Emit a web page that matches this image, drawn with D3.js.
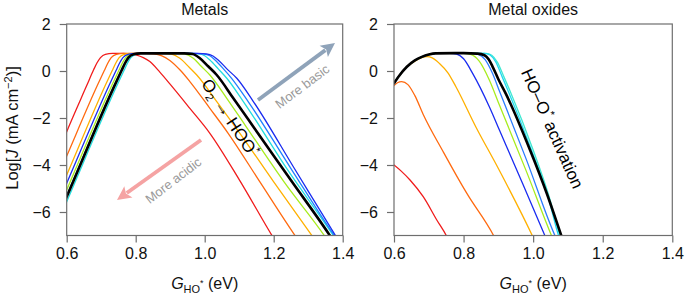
<!DOCTYPE html>
<html>
<head>
<meta charset="utf-8">
<script src="https://cdn.jsdelivr.net/npm/d3@7"></script>
<style>
  html, body { margin: 0; padding: 0; background: #fff; }
  svg { display: block; font-family: "Liberation Sans", Arial, sans-serif; }
</style>
</head>
<body>
<svg id="chart" width="685" height="298"></svg>
<script>
// ---------- data ----------
const xTicks = [0.6, 0.8, 1.0, 1.2, 1.4];
const yTicks = [2, 0, -2, -4, -6];
const panelTitles = ["Metals", "Metal oxides"];

// Metals panel curves: [G_HO*, log J]
const metalsRed = [[0.58,-3.3],[0.6,-2.58],[0.658,-0.62],[0.678,0.05],[0.688,0.35],[0.698,0.57],[0.712,0.71],[0.733,0.75],[0.765,0.75],[0.785,0.73],[0.803,0.68],[0.822,0.57],[0.841,0.40],[0.87,-0.05],[0.899,-0.55],[0.957,-1.59],[1.015,-2.65],[1.10,-4.62],[1.197,-7.05],[1.22,-7.6]];
const metalsOrange = [[0.58,-4.3],[0.6,-3.62],[0.689,-0.61],[0.709,0.02],[0.719,0.33],[0.729,0.57],[0.744,0.71],[0.765,0.75],[0.83,0.75],[0.852,0.73],[0.876,0.64],[0.899,0.45],[0.93,0.02],[0.957,-0.45],[1.015,-1.59],[1.068,-2.65],[1.16,-4.72],[1.264,-7.05],[1.29,-7.6]];
const metalsGold = [[0.58,-5.11],[0.6,-4.43],[0.712,-0.61],[0.732,0.02],[0.742,0.33],[0.752,0.57],[0.767,0.71],[0.787,0.75],[0.875,0.75],[0.903,0.72],[0.928,0.54],[0.955,0.16],[0.977,-0.17],[1.035,-1.30],[1.102,-2.65],[1.20,-4.72],[1.313,-7.05],[1.34,-7.6]];
const metalsYellowGreen = [[0.58,-5.74],[0.6,-5.06],[0.731,-0.61],[0.751,0.02],[0.761,0.33],[0.771,0.57],[0.786,0.71],[0.806,0.75],[0.915,0.75],[0.943,0.72],[0.967,0.54],[0.99,0.2],[1.015,-0.17],[1.064,-1.16],[1.117,-2.30],[1.23,-4.72],[1.349,-7.05],[1.37,-7.5]];
const metalsBlue = [[0.58,-5.46],[0.6,-4.78],[0.723,-0.61],[0.743,0.02],[0.753,0.33],[0.763,0.57],[0.778,0.71],[0.798,0.75],[0.98,0.75],[1.005,0.73],[1.024,0.64],[1.039,0.47],[1.065,0.08],[1.093,-0.31],[1.141,-1.30],[1.26,-4.15],[1.381,-7.05],[1.40,-7.5]];
const metalsDodger = [[0.58,-5.98],[0.6,-5.30],[0.738,-0.61],[0.758,0.02],[0.768,0.33],[0.778,0.57],[0.793,0.71],[0.813,0.75],[0.97,0.75],[0.995,0.73],[1.015,0.65],[1.030,0.47],[1.055,0.08],[1.078,-0.31],[1.126,-1.30],[1.25,-4.15],[1.378,-7.05],[1.40,-7.5]];
const metalsCyan = [[0.58,-6.24],[0.6,-5.56],[0.746,-0.61],[0.766,0.02],[0.776,0.33],[0.786,0.57],[0.801,0.71],[0.821,0.75],[0.958,0.75],[0.983,0.73],[1.0,0.65],[1.015,0.47],[1.04,0.08],[1.064,-0.31],[1.112,-1.30],[1.24,-4.2],[1.375,-7.05],[1.395,-7.5]];
const metalsBlack = [[0.58,-6.03],[0.6,-5.35],[0.739,-0.61],[0.759,0.02],[0.769,0.33],[0.779,0.57],[0.794,0.71],[0.814,0.75],[0.94,0.75],[0.965,0.72],[0.986,0.54],[1.01,0.2],[1.035,-0.17],[1.083,-1.16],[1.141,-2.37],[1.25,-4.65],[1.365,-7.05],[1.385,-7.5]];

// Metal oxides panel curves
const oxRed = [[0.6,-4.0],[0.62,-4.25],[0.646,-4.64],[0.684,-5.35],[0.723,-6.34],[0.752,-7.05],[0.76,-7.3]];
const oxOrange = [[0.6,-0.62],[0.61,-0.5],[0.622,-0.45],[0.64,-0.58],[0.66,-1.05],[0.684,-1.85],[0.742,-3.45],[0.809,-5.2],[0.888,-7.05],[0.9,-7.4]];
const oxGold = [[0.6,-0.52],[0.615,-0.2],[0.637,0.17],[0.66,0.42],[0.68,0.57],[0.695,0.61],[0.71,0.56],[0.73,0.33],[0.755,-0.08],[0.778,-0.67],[0.835,-2.37],[0.900,-4.15],[0.999,-7.05],[1.01,-7.4]];
const oxBlue = [[0.6,-0.52],[0.615,-0.2],[0.637,0.18],[0.66,0.45],[0.68,0.6],[0.70,0.7],[0.72,0.75],[0.76,0.75],[0.78,0.72],[0.80,0.52],[0.826,-0.1],[0.874,-1.52],[0.903,-2.51],[0.97,-4.8],[1.035,-7.05],[1.045,-7.4]];
const oxYellowGreen = [[0.6,-0.52],[0.615,-0.2],[0.637,0.18],[0.66,0.45],[0.68,0.6],[0.70,0.7],[0.72,0.75],[0.80,0.75],[0.82,0.71],[0.845,0.42],[0.874,-0.38],[0.903,-1.45],[0.98,-4.25],[1.054,-7.05],[1.064,-7.4]];
const oxDodger = [[0.6,-0.52],[0.615,-0.2],[0.637,0.18],[0.66,0.45],[0.68,0.6],[0.70,0.7],[0.72,0.75],[0.82,0.75],[0.842,0.71],[0.862,0.48],[0.883,-0.1],[0.903,-0.85],[0.98,-3.75],[1.064,-7.05],[1.075,-7.4]];
const oxCyan = [[0.6,-0.52],[0.615,-0.2],[0.637,0.18],[0.66,0.45],[0.68,0.6],[0.70,0.7],[0.72,0.75],[0.86,0.75],[0.876,0.68],[0.892,0.4],[0.911,-0.25],[0.93,-0.92],[0.995,-3.36],[1.04,-5.2],[1.074,-7.05],[1.082,-7.4]];
const oxTurquoise = [[0.6,-0.52],[0.615,-0.2],[0.637,0.18],[0.66,0.45],[0.68,0.6],[0.70,0.7],[0.72,0.75],[0.865,0.75],[0.881,0.67],[0.897,0.38],[0.916,-0.25],[0.935,-0.9],[1.0,-3.36],[1.045,-5.3],[1.078,-7.05],[1.086,-7.4]];
const oxBlack = [[0.6,-0.52],[0.615,-0.2],[0.637,0.18],[0.66,0.45],[0.68,0.6],[0.70,0.7],[0.72,0.75],[0.80,0.76],[0.84,0.74],[0.86,0.67],[0.872,0.5],[0.883,0.2],[0.90,-0.35],[0.921,-0.95],[0.991,-3.36],[1.039,-5.2],[1.082,-7.05],[1.09,-7.4]];

// ---------- layout ----------
const svg = d3.select("#chart");
const plotTop = 24, plotBottom = 235.5;
const y = d3.scaleLinear().domain([-7, 2]).range([plotBottom, plotTop]);
const panels = [
  { title: panelTitles[0], x0: 66.7, x1: 342.7,
    series: [
      { d: metalsRed, c: "#f01c1c" }, { d: metalsOrange, c: "#ff6a10" },
      { d: metalsGold, c: "#ffb000" }, { d: metalsYellowGreen, c: "#a8ec1e" },
      { d: metalsCyan, c: "#22dede" }, { d: metalsDodger, c: "#2080ff" },
      { d: metalsBlue, c: "#1a2cf0" }, { d: metalsBlack, c: "#000", w: 2.6 } ] },
  { title: panelTitles[1], x0: 394, x1: 672.3,
    series: [
      { d: oxRed, c: "#f01c1c" }, { d: oxOrange, c: "#ff6a10" },
      { d: oxGold, c: "#ffb000" }, { d: oxBlue, c: "#1a2cf0" },
      { d: oxYellowGreen, c: "#a8ec1e" }, { d: oxDodger, c: "#2a7cff" },
      { d: oxTurquoise, c: "#40e8d0" }, { d: oxCyan, c: "#20d8f0" },
      { d: oxBlack, c: "#000", w: 2.6 } ] }
];

const defs = svg.append("defs");
const fmtY = d => d < 0 ? "\u2212" + Math.abs(d) : String(d);

panels.forEach((p, i) => {
  const x = d3.scaleLinear().domain([0.6, 1.4]).range([p.x0, p.x1]);
  const g = svg.append("g");
  defs.append("clipPath").attr("id", "clip" + i).append("rect")
    .attr("x", p.x0).attr("y", plotTop).attr("width", p.x1 - p.x0).attr("height", plotBottom - plotTop);

  const line = d3.line().x(d => x(d[0])).y(d => y(d[1])).curve(d3.curveMonotoneX);
  const lines = g.append("g").attr("clip-path", `url(#clip${i})`);
  p.series.forEach(s => {
    lines.append("path").attr("d", line(s.d)).attr("fill", "none")
      .attr("stroke", s.c).attr("stroke-width", s.w || 1.3)
      .attr("stroke-linejoin", "round").attr("stroke-linecap", "round");
  });

  // frame
  g.append("rect").attr("x", p.x0).attr("y", plotTop).attr("width", p.x1 - p.x0)
    .attr("height", plotBottom - plotTop).attr("fill", "none").attr("stroke", "#6e6e6e").attr("stroke-width", 1.2);

  const ax = g.append("g").attr("transform", `translate(0,${plotBottom})`)
    .call(d3.axisBottom(x).tickValues(xTicks).tickSize(7).tickPadding(5).tickFormat(d3.format(".1f")));
  const ay = g.append("g").attr("transform", `translate(${p.x0},0)`)
    .call(d3.axisLeft(y).tickValues(yTicks).tickSize(7).tickPadding(9).tickFormat(fmtY));
  [ax, ay].forEach(a => {
    a.select(".domain").remove();
    a.selectAll("line").attr("stroke", "#6e6e6e").attr("stroke-width", 1.2);
    a.selectAll("text").attr("font-size", 16).attr("fill", "#111")
      .attr("font-family", "Liberation Sans, Arial, sans-serif");
  });

  g.append("text").attr("x", (p.x0 + p.x1) / 2).attr("y", 15).attr("text-anchor", "middle")
    .attr("font-size", 16).attr("fill", "#111").text(p.title);

  const xl = g.append("text").attr("x", (p.x0 + p.x1) / 2).attr("y", 289)
    .attr("text-anchor", "middle").attr("font-size", 16).attr("fill", "#111");
  xl.append("tspan").attr("font-style", "italic").text("G");
  xl.append("tspan").attr("font-size", 11).attr("dy", 4).text("HO");
  xl.append("tspan").attr("font-size", 9).attr("dy", -7).text("*");
  xl.append("tspan").attr("dy", 3).text(" (eV)");
});

// y-axis label
const yl = svg.append("text").attr("transform", "translate(18,128) rotate(-90)")
  .attr("text-anchor", "middle").attr("font-size", 16.5).attr("fill", "#111");
yl.append("tspan").text("Log[");
yl.append("tspan").attr("font-style", "italic").text("J");
yl.append("tspan").text(" (mA cm");
yl.append("tspan").attr("font-size", 11).attr("dy", -6).text("\u22122");
yl.append("tspan").attr("dy", 6).text(")]");

// arrows
function arrow(x1, y1, x2, y2, color) {
  const ang = Math.atan2(y2 - y1, x2 - x1);
  const hl = 14, hw = 7;
  const bx = x2 - hl * Math.cos(ang), by = y2 - hl * Math.sin(ang);
  svg.append("line").attr("x1", x1).attr("y1", y1).attr("x2", bx + 2 * Math.cos(ang)).attr("y2", by + 2 * Math.sin(ang))
    .attr("stroke", color).attr("stroke-width", 3.8);
  const px = -Math.sin(ang), py = Math.cos(ang);
  svg.append("path").attr("d", `M${x2},${y2}L${bx + px * hw},${by + py * hw}L${bx + 3 * Math.cos(ang)},${by + 3 * Math.sin(ang)}L${bx - px * hw},${by - py * hw}Z`)
    .attr("fill", color);
}
arrow(258, 100, 335, 43, "#8fa3b9");
arrow(201, 140, 117, 200, "#f5a3a3");

svg.append("text").attr("transform", "translate(305,90) rotate(-37)")
  .attr("text-anchor", "middle").attr("font-size", 13).attr("fill", "#9a9a9a").text("More basic");
svg.append("text").attr("transform", "translate(176,184) rotate(-37.5)")
  .attr("text-anchor", "middle").attr("font-size", 13).attr("fill", "#9a9a9a").text("More acidic");

// O2 -> HOO*
const t1 = svg.append("text").attr("transform", "translate(225,121) rotate(57)")
  .attr("text-anchor", "middle").attr("font-size", 17).attr("fill", "#000");
t1.append("tspan").text("O");
t1.append("tspan").attr("font-size", 11).attr("dy", 4).text("2");
t1.append("tspan").attr("dy", -4).text(" \u2192 HOO");
t1.append("tspan").attr("font-size", 11).attr("dy", -7).text("*");

const t2 = svg.append("text").attr("transform", "translate(547,131) rotate(66)")
  .attr("text-anchor", "middle").attr("font-size", 17).attr("fill", "#000");
t2.append("tspan").text("HO\u2013O");
t2.append("tspan").attr("font-size", 11).attr("dy", -7).text("*");
t2.append("tspan").attr("dy", 7).text(" activation");
</script>
</body>
</html>
